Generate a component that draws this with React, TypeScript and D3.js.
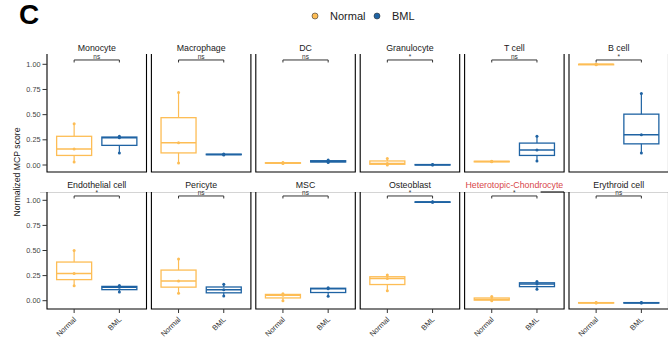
import React, { useEffect, useRef } from "react";
import * as d3 from "d3";

const cellTypes = [
  "Monocyte", "Macrophage", "DC", "Granulocyte", "T cell", "B cell",
  "Endothelial cell", "Pericyte", "MSC", "Osteoblast", "Heterotopic-Chondrocyte", "Erythroid cell",
];
const signif = ["ns", "ns", "ns", "*", "ns", "*", "*", "ns", "ns", "*", "*", "ns"];
const groups = ["Normal", "BML"];

// three samples per group
const normalValues = [
  [0.03, 0.16, 0.41],
  [0.02, 0.22, 0.72],
  [0.015, 0.02, 0.025],
  [0.0, 0.015, 0.065],
  [0.032, 0.035, 0.038],
  [0.995, 1.0, 1.0],
  [0.15, 0.27, 0.5],
  [0.075, 0.195, 0.415],
  [0.0, 0.055, 0.07],
  [0.1, 0.222, 0.255],
  [0.0, 0.012, 0.042],
  [-0.022, -0.02, -0.018],
];
const bmlValues = [
  [0.12, 0.27, 0.285],
  [0.1, 0.105, 0.11],
  [0.025, 0.035, 0.05],
  [0.0, 0.003, 0.006],
  [0.04, 0.15, 0.285],
  [0.12, 0.3, 0.71],
  [0.087, 0.133, 0.152],
  [0.047, 0.11, 0.163],
  [0.045, 0.118, 0.13],
  [0.98, 0.983, 0.986],
  [0.113, 0.167, 0.19],
  [-0.022, -0.02, -0.018],
];
const yTicks = [0, 0.25, 0.5, 0.75, 1];

const colors = { Normal: "#FDBD55", BML: "#1F63A3" };

const App = () => {
  const svgRef = useRef(null);

  useEffect(() => {
    const svg = d3.select(svgRef.current);
    svg.selectAll("*").remove();
    const font = "Liberation Sans, Arial, sans-serif";

    // row layout
    const rows = [
      { top: 54, bottom: 172, y: d3.scaleLinear().domain([0, 1]).range([165, 64.3]) },
      { top: 192, bottom: 309, y: d3.scaleLinear().domain([0, 1]).range([300.7, 200.3]) },
    ];
    const panelW = 99.5;
    const step = 104.4;
    const left0 = 47;
    const boxW = 35;

    // big panel letter
    svg.append("text").attr("x", 19).attr("y", 24).attr("font-family", font)
      .attr("font-weight", "bold").attr("font-size", 28).attr("fill", "#000").text("C");

    // legend
    const leg = svg.append("g").attr("font-family", font).attr("font-size", 11);
    [["Normal", 315, 330], ["BML", 377, 392]].forEach(([g, cx, tx]) => {
      leg.append("circle").attr("cx", cx).attr("cy", 16).attr("r", 3)
        .attr("fill", colors[g]).attr("stroke", "#333").attr("stroke-width", 0.6);
      leg.append("text").attr("x", tx).attr("y", 20).attr("fill", "#222").text(g);
    });

    // y title
    svg.append("text").attr("transform", "translate(20,172) rotate(-90)")
      .attr("text-anchor", "middle").attr("font-family", font).attr("font-size", 8.7)
      .attr("fill", "#222").text("Normalized MCP score");

    // light line over the second row
    svg.append("line").attr("x1", 40).attr("x2", 668).attr("y1", 192.5).attr("y2", 192.5)
      .attr("stroke", "#d4d4d4").attr("stroke-width", 1);

    cellTypes.forEach((name, i) => {
      const r = Math.floor(i / 6);
      const c = i % 6;
      const row = rows[r];
      const y = row.y;
      const left = left0 + c * step;
      const x = d3.scalePoint().domain(groups).range([left, left + panelW]).padding(0.6);
      const g = svg.append("g");

      // strip title
      g.append("text").attr("x", left + panelW / 2).attr("y", row.top - (r === 0 ? 3 : 4))
        .attr("text-anchor", "middle").attr("font-family", font).attr("font-size", 8.8)
        .attr("fill", name === "Heterotopic-Chondrocyte" ? "#D8474A" : "#1a1a1a").text(name);

      // borders
      g.append("path")
        .attr("d", `M${left},${row.top}V${row.bottom}H${left + panelW}V${row.top}`)
        .attr("fill", "none").attr("stroke", "#000").attr("stroke-width", 1.1);
      if (name === "Heterotopic-Chondrocyte") {
        g.append("line").attr("x1", left + 76).attr("x2", left + panelW)
          .attr("y1", row.top).attr("y2", row.top).attr("stroke", "#000").attr("stroke-width", 1.1);
      }

      // boxplots
      [["Normal", normalValues[i]], ["BML", bmlValues[i]]].forEach(([grp, vals]) => {
        const s = vals.slice().sort(d3.ascending);
        const q1 = d3.quantile(s, 0.25);
        const med = d3.quantile(s, 0.5);
        const q3 = d3.quantile(s, 0.75);
        const cx = x(grp);
        const col = colors[grp];
        g.append("line").attr("x1", cx).attr("x2", cx).attr("y1", y(s[0])).attr("y2", y(q1))
          .attr("stroke", col).attr("stroke-width", 1.2);
        g.append("line").attr("x1", cx).attr("x2", cx).attr("y1", y(q3)).attr("y2", y(s[2]))
          .attr("stroke", col).attr("stroke-width", 1.2);
        g.append("rect").attr("x", cx - boxW / 2).attr("width", boxW)
          .attr("y", y(q3)).attr("height", Math.max(y(q1) - y(q3), 0.5))
          .attr("fill", "none").attr("stroke", col).attr("stroke-width", 1.3);
        g.append("line").attr("x1", cx - boxW / 2).attr("x2", cx + boxW / 2)
          .attr("y1", y(med)).attr("y2", y(med)).attr("stroke", col).attr("stroke-width", 1.5);
        g.selectAll(null).data(s).join("circle")
          .attr("cx", cx).attr("cy", (d) => y(d)).attr("r", 1.5).attr("fill", col);
      });

      // significance bracket
      const by = y(1.043);
      const x1 = x("Normal");
      const x2 = x("BML");
      g.append("path").attr("d", `M${x1},${by + 2.5}V${by}H${x2}V${by + 2.5}`)
        .attr("fill", "none").attr("stroke", "#333").attr("stroke-width", 1);
      g.append("text").attr("x", (x1 + x2) / 2).attr("y", by - 0.8)
        .attr("text-anchor", "middle").attr("font-family", font).attr("font-size", 6.5)
        .attr("fill", "#333").text(signif[i]);

      // y axis on first column
      if (c === 0) {
        yTicks.forEach((t) => {
          g.append("line").attr("x1", left - 4.5).attr("x2", left).attr("y1", y(t)).attr("y2", y(t))
            .attr("stroke", "#333").attr("stroke-width", 1);
          g.append("text").attr("x", left - 6.5).attr("y", y(t)).attr("dy", "0.35em")
            .attr("text-anchor", "end").attr("font-family", font).attr("font-size", 7.3)
            .attr("fill", "#444").text(d3.format(".2f")(t));
        });
      }

      // x axis on bottom row
      if (r === 1) {
        groups.forEach((grp) => {
          const gx = x(grp);
          const lx = gx + 2.5;
          const ly = row.bottom + 11;
          g.append("line").attr("x1", gx).attr("x2", gx).attr("y1", row.bottom).attr("y2", row.bottom + 4)
            .attr("stroke", "#333").attr("stroke-width", 1);
          g.append("text").attr("x", lx).attr("y", ly)
            .attr("transform", `rotate(-45 ${lx} ${ly})`)
            .attr("text-anchor", "end").attr("font-family", font)
            .attr("font-size", 7.5).attr("fill", "#333").text(grp);
        });
      }
    });
  });

  return (
    <div style={{ position: "absolute", left: 0, top: 0, width: 668, height: 338 }}>
      <svg ref={svgRef} width={668} height={338} style={{ display: "block" }}></svg>
    </div>
  );
};

export default App;
